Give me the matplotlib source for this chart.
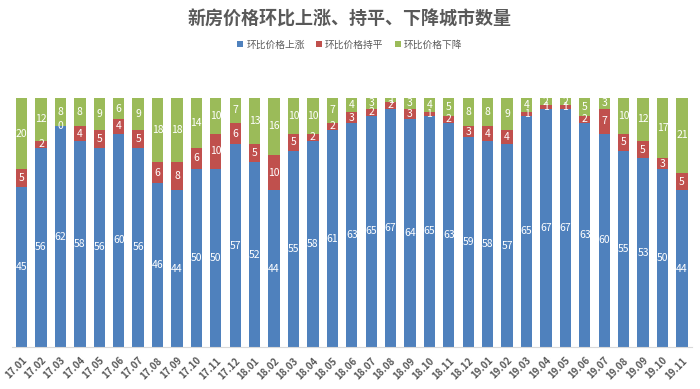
import numpy as np
import matplotlib.pyplot as plt

plt.rcParams['font.family'] = ['Noto Sans CJK SC', 'DejaVu Sans']

# data: number of cities (70 in total) by month-on-month price change
months = ['17.01', '17.02', '17.03', '17.04', '17.05', '17.06', '17.07', '17.08', '17.09',
          '17.10', '17.11', '17.12', '18.01', '18.02', '18.03', '18.04', '18.05', '18.06',
          '18.07', '18.08', '18.09', '18.10', '18.11', '18.12', '19.01', '19.02', '19.03',
          '19.04', '19.05', '19.06', '19.07', '19.08', '19.09', '19.10', '19.11']
up = [45, 56, 62, 58, 56, 60, 56, 46, 44, 50, 50, 57, 52, 44, 55, 58, 61, 63,
      65, 67, 64, 65, 63, 59, 58, 57, 65, 67, 67, 63, 60, 55, 53, 50, 44]
flat = [5, 2, 0, 4, 5, 4, 5, 6, 8, 6, 10, 6, 5, 10, 5, 2, 2, 3,
        2, 2, 3, 1, 2, 3, 4, 4, 1, 1, 1, 2, 7, 5, 5, 3, 5]
down = [20, 12, 8, 8, 9, 6, 9, 18, 18, 14, 10, 7, 13, 16, 10, 10, 7, 4,
        3, 1, 3, 4, 5, 8, 8, 9, 4, 2, 2, 5, 3, 10, 12, 17, 21]
series_names = ['环比价格上涨', '环比价格持平', '环比价格下降']
colors = ['#4F81BD', '#C0504D', '#9BBB59']

fig = plt.figure(figsize=(7, 3.89), dpi=100)
ax = fig.add_axes([0.017, 0.108, 0.971, 0.64])

x = np.arange(len(months))
bottom = np.zeros(len(months))
for vals, name, c in zip([up, flat, down], series_names, colors):
    vals = np.array(vals)
    bars = ax.bar(x, vals, 0.58, bottom=bottom, color=c, label=name)
    ax.bar_label(bars, labels=[str(v) for v in vals], label_type='center',
                 color='white', fontsize=7.5)
    bottom += vals

ax.set_xlim(-0.5, len(months) - 0.5)
ax.set_ylim(0, 70)
ax.set_yticks([])
for s in ['top', 'left', 'right']:
    ax.spines[s].set_visible(False)
ax.spines['bottom'].set_color('#D9D9D9')
ax.set_xticks(x)
ax.set_xticklabels(months, rotation=45, ha='right', rotation_mode='anchor',
                   fontsize=7, color='#595959', fontweight='bold')
ax.tick_params(axis='x', length=0, pad=6)

fig.suptitle('新房价格环比上涨、持平、下降城市数量', y=0.975, fontsize=13,
             fontweight='bold', color='#595959')
fig.legend(loc='center', bbox_to_anchor=(0.5, 0.885), ncol=3, frameon=False,
           fontsize=7, handlelength=0.6, handleheight=0.6, handletextpad=0.3,
           columnspacing=1.2, labelcolor='#595959')

fig.savefig('out.png', dpi=100)
